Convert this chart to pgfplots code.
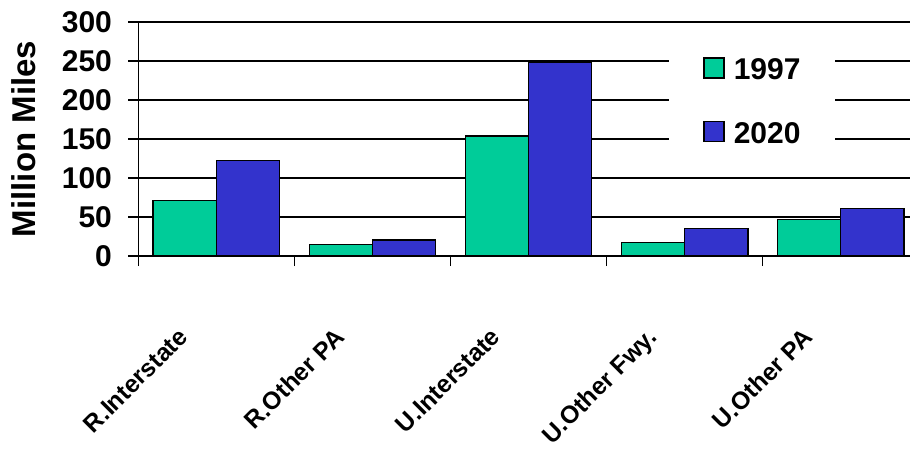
\documentclass[border=0pt]{standalone}
\usepackage{fontspec}
\setmainfont{Liberation Sans}
\usepackage{pgfplots}
\pgfplotsset{compat=1.18}
\definecolor{bargreen}{RGB}{0,204,153}
\definecolor{barblue}{RGB}{51,51,204}
\pgfplotsset{boxlegend/.style={legend image code/.code={%
    \draw[##1,line width=0.7pt] (0pt,-4.6pt) rectangle (10pt,5.4pt);}}}

\begin{document}
\begin{tikzpicture}
% page = 910x450 px at 0.5pt per px, origin at the axis corner
\useasboundingbox (-69.15pt,-97pt) rectangle (385.85pt,128pt);
\begin{axis}[
    width=385.85pt, height=117pt, scale only axis,
    ybar=0pt, bar width=31.6pt,
    xmin=-0.5, xmax=4.444,
    ymin=0, ymax=300,
    axis x line*=bottom, axis y line*=left,
    axis line style={line width=0.7pt, -},
    every tick/.style={black, line width=0.7pt},
    tick align=outside, major tick length=5pt,
    ytick={0,50,...,300},
    ymajorgrids, grid style={black, line width=0.7pt},
    xtick={-0.5,0.5,1.5,2.5,3.5}, xticklabels={{},{},{},{},{}},
    extra x ticks={0,1,2,3,4},
    extra x tick labels={R.Interstate,R.Other PA,U.Interstate,U.Other Fwy.,U.Other PA},
    extra x tick style={major tick length=0pt,
        tick label style={font=\bfseries\fontsize{12.3}{12.3}\selectfont,
            inner sep=0pt, xshift=-19.5pt, yshift=-35pt, rotate=45, anchor=north east}},
    /pgf/number format/assume math mode=true,
    yticklabel style={font=\bfseries\fontsize{15}{15}\selectfont, inner sep=0pt, xshift=-8pt},
    ylabel={Million Miles},
    ylabel style={font=\bfseries\fontsize{16.5}{16.5}\selectfont,
        at={(axis description cs:-0.1481,0.5)}, anchor=center},
    legend style={at={(axis description cs:0.6877,0.9017)}, anchor=north west,
        draw=none, fill=white, inner xsep=17pt, inner ysep=6pt, row sep=20.5pt,
        font=\bfseries\fontsize{15}{15}\selectfont,
        nodes={inner sep=0pt, text height=11pt, text depth=0pt},
        /tikz/every odd column/.append style={column sep=4.5pt}},
]
\addplot[fill=bargreen, draw=black, line width=0.7pt, boxlegend]
    coordinates {(0,71.5) (1,15) (2,153.7) (3,17.6) (4,46.5)};
\addlegendentry{1997}
\addplot[fill=barblue, draw=black, line width=0.7pt, boxlegend]
    coordinates {(0,122.8) (1,20.5) (2,248.6) (3,35.6) (4,60.8)};
\addlegendentry{2020}
\end{axis}
\end{tikzpicture}
\end{document}
